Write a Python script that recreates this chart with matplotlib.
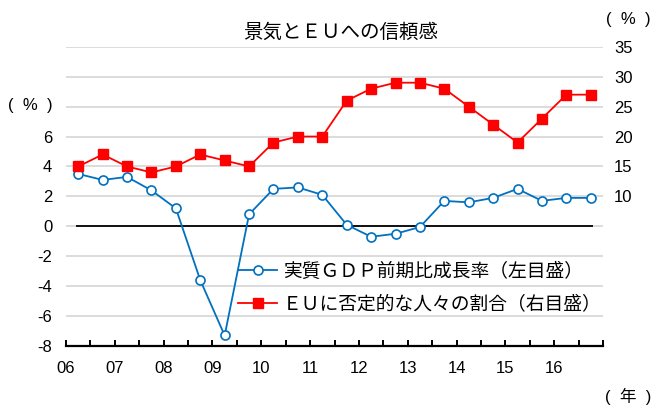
import numpy as np
import matplotlib
matplotlib.use("Agg")
import matplotlib.pyplot as plt

plt.rcParams['font.family'] = ['Liberation Sans', 'Noto Sans CJK JP', 'DejaVu Sans']
jp = ['Noto Sans CJK JP', 'DejaVu Sans']

# half-year observations, 2006 H1 .. 2016 H2
years = ["06", "07", "08", "09", "10", "11", "12", "13", "14", "15", "16"]
gdp = [3.5, 3.1, 3.3, 2.4, 1.2, -3.6, -7.3, 0.8, 2.5, 2.6, 2.1,
       0.1, -0.7, -0.5, -0.05, 1.7, 1.6, 1.9, 2.5, 1.7, 1.9, 1.9]
eu_neg = [15, 17, 15, 14, 15, 17, 16, 15, 19, 20, 20,
          26, 28, 29, 29, 28, 25, 22, 19, 23, 27, 27]

label_gdp = "実質ＧＤＰ前期比成長率（左目盛）"
label_eu = "ＥＵに否定的な人々の割合（右目盛）"

x = np.arange(len(gdp))

fig = plt.figure(figsize=(6.67, 4.07), dpi=100)
ax = fig.add_axes([0.099, 0.150, 0.805, 0.735])
ax2 = ax.twinx()

ax.set_xlim(-0.5, len(gdp) - 0.5)
ax.set_ylim(-8, 12)
ax2.set_ylim(-15, 35)

for g in np.arange(-6, 13, 2):
    ax.axhline(g, color="#d9d9d9", lw=1.3, zorder=0)
ax.hlines(0, -0.1, len(gdp) - 0.9, color="black", lw=1.3, zorder=1)

l1, = ax.plot(x, gdp, color="#0070c0", lw=1.3, marker="o", ms=6.5,
              mfc="white", mec="#0070c0", mew=1.2, zorder=3)
l2, = ax2.plot(x, eu_neg, color="#ff0000", lw=1.3, marker="s", ms=6.5,
               mfc="#ff0000", mec="#ff0000", zorder=3)

for a in (ax, ax2):
    for s in ("top", "left", "right"):
        a.spines[s].set_visible(False)
ax2.spines["bottom"].set_visible(False)
ax.spines["bottom"].set_linewidth(1.6)

ax.set_yticks(np.arange(-8, 7, 2))
ax.set_yticklabels([str(v) for v in range(-8, 7, 2)])
ax.tick_params(axis="y", length=0, pad=10, labelsize=12)
ax2.set_yticks(np.arange(10, 36, 5))
ax2.tick_params(axis="y", length=0, pad=8, labelsize=12)

major = np.arange(-0.5, len(gdp), 2)
ax.set_xticks(major)
ax.set_xticklabels(years + [""])
ax.set_xticks(np.arange(-0.5, len(gdp), 1), minor=True)
ax.tick_params(axis="x", which="both", direction="in", length=4.5,
               width=1.4, pad=11, labelsize=12)

fig.text(0.51, 0.921, "景気とＥＵへの信頼感", ha="center", va="center",
         fontsize=14, family=jp)
fig.text(0.045, 0.742, "(  %  )", ha="center", va="center", fontsize=12)
fig.text(0.942, 0.951, "(  %  )", ha="center", va="center", fontsize=12)
fig.text(0.942, 0.025, "(  年  )", ha="center", va="center", fontsize=12,
         family=['Liberation Sans', 'Noto Sans CJK JP'])

leg = fig.legend([l1, l2], [label_gdp, label_eu], loc="upper left",
                 bbox_to_anchor=(238 / 667, 1 - 261 / 407), frameon=False,
                 borderpad=0, borderaxespad=0, handlelength=2.1,
                 handletextpad=0.3, labelspacing=0.6,
                 prop={"family": jp, "size": 13.5})

fig.savefig("out.png", dpi=100)
